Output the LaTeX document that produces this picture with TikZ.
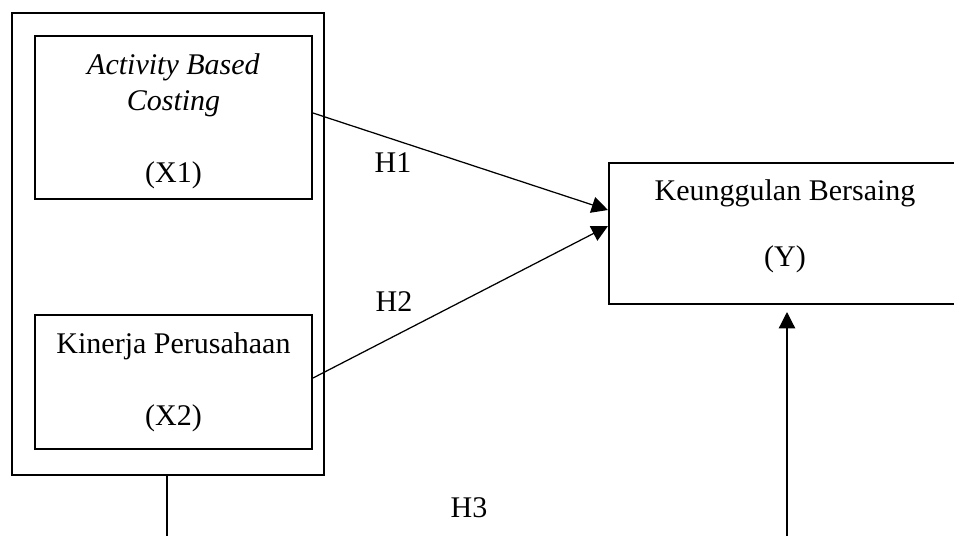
\documentclass[tikz,border=0pt]{standalone}
\usepackage{fontspec}
\setmainfont{Liberation Serif}
\usetikzlibrary{arrows.meta}

\begin{document}
\begin{tikzpicture}[x=0.4pt,y=-0.4pt]
    \tikzset{var box/.style={draw, line width=0.8pt, inner sep=0pt},
        var text/.style={align=center, font=\fontsize{12}{14.4}\selectfont},
        hyp/.style={font=\fontsize{12}{14.4}\selectfont},
        path arrow/.style={line width=0.5pt, -{Triangle[length=6.5pt,width=6.5pt]}}}
    \clip (0,0) rectangle (954,536);
    \node[draw, line width=0.9pt, minimum width=124.8pt, minimum height=184.8pt] (grp) at (168,244) {};
    \node[var box, minimum width=110.8pt, minimum height=65.2pt] (abc) at (173.5,117.5) {};
    \node[var text] (abc text) at ([yshift=-1.6pt]abc.center)
        {\textit{Activity Based}\\ \textit{Costing}\\[14.4pt] (X1)};
    \node[var box, minimum width=110.8pt, minimum height=53.6pt] (kp) at (173.5,382) {};
    \node[var text] (kp text) at (kp.center) {Kinerja Perusahaan\\[14.4pt] (X2)};
    \node[var box, minimum width=140.8pt, minimum height=56.4pt] (kb) at (785,233.5) {};
    \node[var text] (kb text) at (785,226) {Keunggulan Bersaing\\[12pt] (Y)};
    % hypotheses
    \draw[path arrow] ([yshift=1.8pt]abc.east) -- ([yshift=9.4pt]kb.west);
    \draw[path arrow] ([yshift=1.6pt]kp.east) -- ([yshift=3pt]kb.west);
    \coordinate (gl) at (167,536);
    \coordinate (gr) at (787,536);
    \draw[line width=0.8pt] (grp.south -| gl) -- (gl);
    \draw[path arrow, shorten >=2.8pt] (gr) -- (kb.south -| gr);
    \node[hyp] (h1) at (393,163) {H1};
    \node[hyp] (h2) at (394,302) {H2};
    \node[hyp] (h3) at (469,508) {H3};
\end{tikzpicture}
\end{document}
